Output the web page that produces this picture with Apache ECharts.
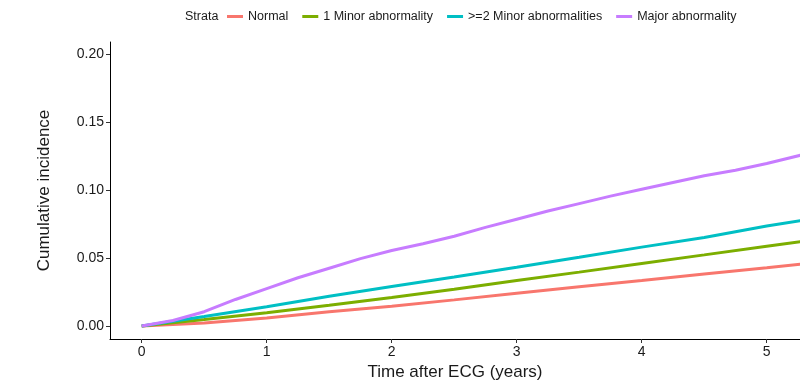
<!DOCTYPE html>
<html>
<head>
<meta charset="utf-8">
<script src="https://cdn.jsdelivr.net/npm/echarts@6/dist/echarts.min.js"></script>
<style>
html,body{margin:0;padding:0;background:#fff;}
#chart{width:800px;height:389px;}
</style>
</head>
<body>
<div id="chart"></div>
<script>
const seriesNames = ['Normal', '1 Minor abnormality', '>=2 Minor abnormalities', 'Major abnormality'];
const yearsCoarse = [0, 0.5, 1, 1.5, 2, 2.5, 3, 3.5, 4, 4.5, 5, 5.3];
const normalValues = [0, 0.0022, 0.0058, 0.0104, 0.0146, 0.0192, 0.0240, 0.0288, 0.0334, 0.0382, 0.0428, 0.0457];
const minor1Values = [0, 0.0048, 0.0098, 0.0152, 0.0210, 0.0270, 0.0334, 0.0396, 0.0460, 0.0523, 0.0587, 0.0624];
const minor2Values = [0, 0.0070, 0.0142, 0.0218, 0.0290, 0.0360, 0.0432, 0.0505, 0.0580, 0.0650, 0.0735, 0.0779];
const yearsFine = [0, 0.25, 0.5, 0.75, 1, 1.25, 1.5, 1.75, 2, 2.25, 2.5, 2.75, 3, 3.25, 3.5, 3.75, 4, 4.25, 4.5, 4.75, 5, 5.3];
const majorValues = [0, 0.0040, 0.0105, 0.0195, 0.0275, 0.0355, 0.0425, 0.0495, 0.0555, 0.0605, 0.0660, 0.0725, 0.0785, 0.0845, 0.0900, 0.0955, 0.1005, 0.1055, 0.1105, 0.1145, 0.1195, 0.1262];
const xTicks = [0, 1, 2, 3, 4, 5];
const yTicks = [0, 0.05, 0.10, 0.15, 0.20];
const colors = ['#F8766D', '#7CAE00', '#00BFC4', '#C77CFF'];

const pair = (xs, ys) => xs.map((x, i) => [x, ys[i]]);
const seriesData = [
  pair(yearsCoarse, normalValues),
  pair(yearsCoarse, minor1Values),
  pair(yearsCoarse, minor2Values),
  pair(yearsFine, majorValues)
];

const font = '"Liberation Sans", Arial, sans-serif';
const chart = echarts.init(document.getElementById('chart'), null, {renderer: 'canvas'});
chart.setOption({
  animation: false,
  backgroundColor: '#ffffff',
  color: colors,
  title: {
    text: 'Strata',
    left: 185,
    top: 10,
    padding: 0,
    textStyle: {fontFamily: font, fontSize: 12.5, fontWeight: 'normal', color: '#1a1a1a'}
  },
  legend: {
    left: 227,
    top: 10,
    padding: 0,
    itemWidth: 16,
    itemHeight: 3,
    itemGap: 14,
    icon: 'rect',
    textStyle: {fontFamily: font, fontSize: 12.5, color: '#1a1a1a'},
    data: seriesNames
  },
  grid: {left: 110, right: 0, top: 42, bottom: 50, containLabel: false},
  xAxis: {
    type: 'value',
    min: -0.2536,
    max: 5.266,
    name: 'Time after ECG (years)',
    nameLocation: 'middle',
    nameGap: 24,
    nameTextStyle: {fontFamily: font, fontSize: 17, color: '#1a1a1a'},
    axisLine: {onZero: false, lineStyle: {color: '#000', width: 1}},
    axisTick: {show: true, length: 4, customValues: xTicks, lineStyle: {color: '#333'}},
    axisLabel: {customValues: xTicks, fontFamily: font, fontSize: 14, color: '#1a1a1a', margin: 6},
    splitLine: {show: false}
  },
  yAxis: {
    type: 'value',
    min: -0.00956,
    max: 0.2088,
    name: 'Cumulative incidence',
    nameLocation: 'middle',
    nameRotate: 90,
    nameGap: 57,
    nameTextStyle: {fontFamily: font, fontSize: 17, color: '#1a1a1a'},
    axisLine: {onZero: false, lineStyle: {color: '#000', width: 1}},
    axisTick: {show: true, length: 4, customValues: yTicks, lineStyle: {color: '#333'}},
    axisLabel: {customValues: yTicks, fontFamily: font, fontSize: 14, color: '#1a1a1a', margin: 6,
      formatter: v => v.toFixed(2)},
    splitLine: {show: false}
  },
  series: seriesNames.map((name, i) => ({
    name: name,
    type: 'line',
    data: seriesData[i],
    showSymbol: false,
    symbol: 'none',
    clip: true,
    lineStyle: {width: 3, color: colors[i]},
    itemStyle: {color: colors[i]}
  }))
});
</script>
</body>
</html>
